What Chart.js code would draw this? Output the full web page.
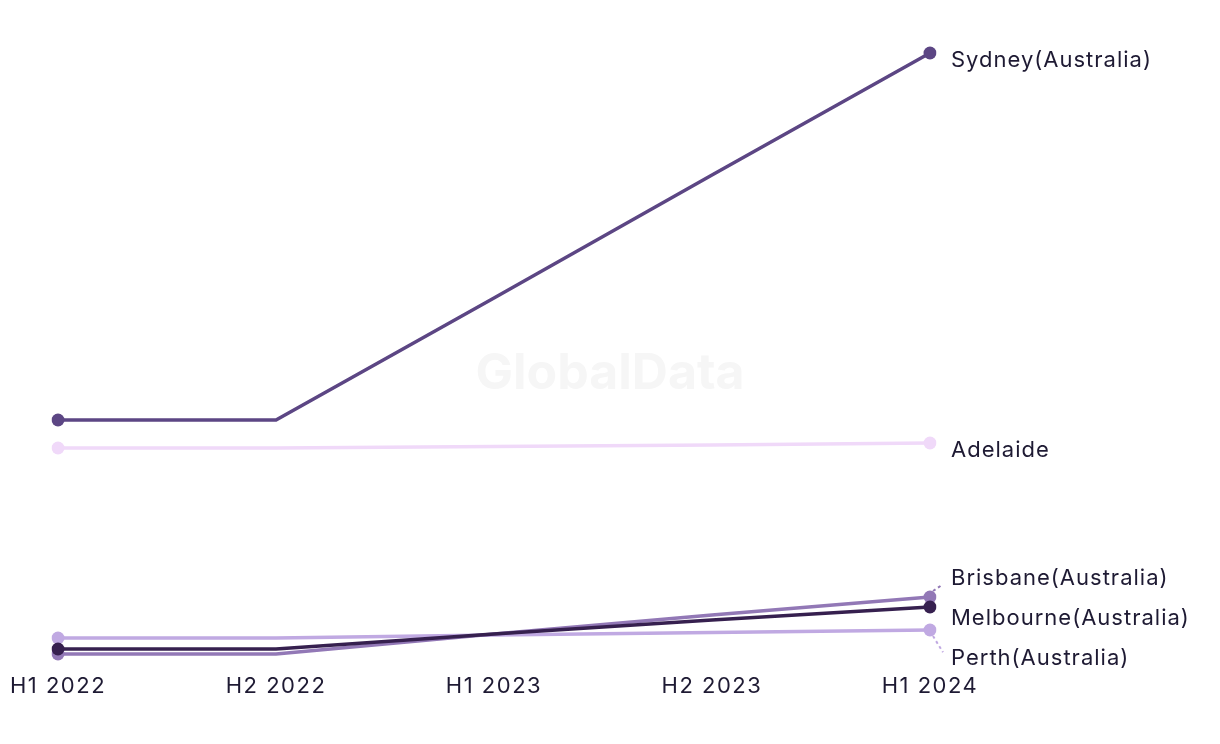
<!DOCTYPE html>
<html>
<head>
<meta charset="utf-8">
<script src="https://cdn.jsdelivr.net/npm/chart.js@4.4.1/dist/chart.umd.min.js"></script>
<style>
  html, body { margin: 0; padding: 0; background: #ffffff; }
  #wrap { width: 1220px; height: 744px; position: relative; }
</style>
</head>
<body>
<div id="wrap"><canvas id="chart"></canvas></div>
<script>
// Half-year periods on the x axis
const periods = ["H1 2022", "H2 2022", "H1 2023", "H2 2023", "H1 2024"];

// Series values (arbitrary units)
const sydney    = [25.0, 25.0, 37.2, 49.5, 61.7];
const melbourne = [2.1, 2.1, 3.6, 5.0, 6.3];
const brisbane  = [1.6, 1.6, 3.6, 5.5, 7.3];
const perth     = [3.2, 3.2, 3.5, 3.75, 4.0];
const adelaide  = [22.2, 22.2, 22.35, 22.5, 22.7];

const INK = "#1e1a33";
const FONT = "Inter, 'Noto Sans', sans-serif";

function series(label, data, color) {
  return {
    label, data,
    borderColor: color, backgroundColor: color,
    borderWidth: 3.5, tension: 0,
    pointRadius: data.map((v, i) => (i === 0 || i === data.length - 1) ? 6.5 : 0),
    pointHoverRadius: 6.5, pointBorderWidth: 0,
  };
}

// Slightly tracked text, like the reference typeface
const tracking = {
  id: "tracking",
  beforeDraw(chart) { chart.ctx.letterSpacing = "1.5px"; },
};

// Watermark in the middle of the plot
const watermark = {
  id: "watermark",
  beforeDatasetsDraw(chart) {
    const { ctx } = chart;
    ctx.save();
    ctx.letterSpacing = "0px";
    ctx.font = "bold 50px " + FONT;
    ctx.fillStyle = "#f6f6f6";
    ctx.textAlign = "center";
    ctx.textBaseline = "middle";
    ctx.fillText("GlobalData", 610, 374);
    ctx.restore();
  },
};

// End labels at the last point, spread apart where they would collide
const endLabels = {
  id: "endLabels",
  afterDatasetsDraw(chart) {
    const { ctx } = chart;
    const gap = 40;
    const items = chart.data.datasets.map((ds, i) => {
      const pt = chart.getDatasetMeta(i).data[ds.data.length - 1];
      return { text: ds.label, color: ds.borderColor, px: pt.x, py: pt.y, y: pt.y + 7 };
    }).sort((a, b) => a.y - b.y);

    // group overlapping labels and centre each group on its mean
    let groups = items.map(it => [it]);
    let merged = true;
    while (merged) {
      merged = false;
      for (const g of groups) {
        const mean = g.reduce((s, it) => s + it.y, 0) / g.length;
        g.top = mean - (g.length - 1) * gap / 2;
      }
      for (let i = 0; i < groups.length - 1; i++) {
        const a = groups[i], b = groups[i + 1];
        if (a.top + a.length * gap > b.top) {
          groups.splice(i, 2, a.concat(b));
          merged = true;
          break;
        }
      }
    }
    ctx.save();
    ctx.font = "22px " + FONT;
    ctx.letterSpacing = "1px";
    ctx.textBaseline = "middle";
    ctx.fillStyle = INK;
    for (const g of groups) {
      g.forEach((it, k) => {
        const ly = g.top + k * gap;
        if (Math.abs(ly - (it.py + 7)) > 8) {
          ctx.save();
          ctx.strokeStyle = it.color;
          ctx.lineWidth = 2;
          ctx.setLineDash([3, 3]);
          ctx.beginPath();
          const dir = ly < it.py ? -1 : 1;
          ctx.moveTo(it.px + 3, it.py + dir * 6);
          ctx.lineTo(it.px + 13, ly - dir * 6);
          ctx.stroke();
          ctx.restore();
        }
        ctx.fillText(it.text, it.px + 21, ly);
      });
    }
    ctx.restore();
  },
};

new Chart(document.getElementById("chart"), {
  type: "line",
  data: {
    labels: periods,
    datasets: [
      series("Sydney(Australia)", sydney, "#5c4684"),
      series("Melbourne(Australia)", melbourne, "#36204f"),
      series("Brisbane(Australia)", brisbane, "#9278b6"),
      series("Perth(Australia)", perth, "#c0a9e2"),
      series("Adelaide", adelaide, "#f0d9f9"),
    ],
  },
  options: {
    animation: false, responsive: true, maintainAspectRatio: false,
    layout: { padding: { left: 58, right: 290, top: 20, bottom: 0 } },
    scales: {
      x: {
        offset: false,
        grid: { display: false, drawTicks: false },
        border: { display: false },
        ticks: { color: INK, font: { family: FONT, size: 22 }, padding: 3, maxRotation: 0 },
        afterFit(s) { s.height = 74; },
      },
      y: { display: false, min: 0, max: 65 },
    },
    plugins: { legend: { display: false }, tooltip: { enabled: false } },
  },
  plugins: [tracking, watermark, endLabels],
});
</script>
</body>
</html>
